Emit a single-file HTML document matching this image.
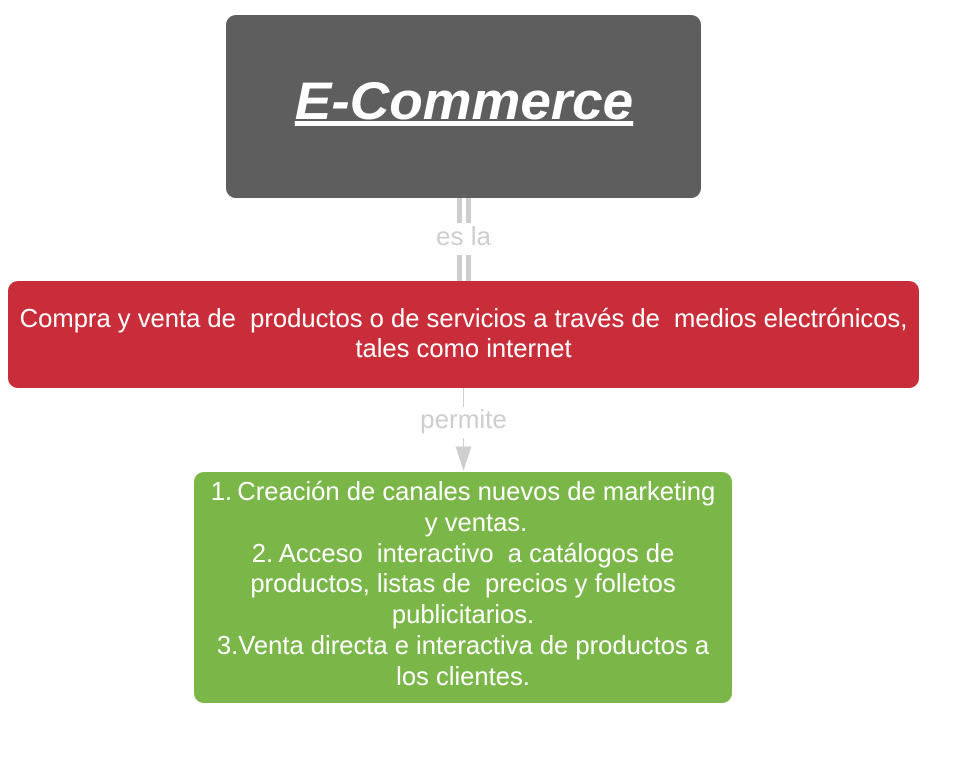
<!DOCTYPE html>
<html>
<head>
<meta charset="utf-8">
<style>
html,body{margin:0;padding:0;background:#fff;width:980px;height:765px;overflow:hidden}
body{position:relative;font-family:"Liberation Sans",sans-serif}
.a{position:absolute}
.box{position:absolute;box-sizing:border-box}
.t{position:absolute;text-align:center;color:#fff;white-space:nowrap;font-size:25.6px;line-height:30.8px}
.l{position:absolute;left:363.5px;width:200px;text-align:center;color:#cecece;font-size:26px;line-height:30px;white-space:nowrap}
</style>
</head>
<body>
<div class="box" style="left:225.5px;top:15px;width:475.5px;height:183px;background:#5e5e5e;border-radius:10px"></div>
<div class="a" style="left:225px;width:478px;top:69px;text-align:center;color:#fff;font-size:53px;line-height:66px;font-weight:bold;font-style:italic;text-decoration:underline;text-decoration-thickness:4.5px;text-underline-offset:2px;white-space:nowrap;transform:scaleX(1.035);transform-origin:center">E-Commerce</div>

<div class="a" style="left:456.5px;top:198px;width:5px;height:25px;background:#cecece"></div>
<div class="a" style="left:465.5px;top:198px;width:5px;height:25px;background:#cecece"></div>
<div class="a" style="left:456.5px;top:255px;width:5px;height:26px;background:#cecece"></div>
<div class="a" style="left:465.5px;top:255px;width:5px;height:26px;background:#cecece"></div>
<div class="l" style="top:221px">es la</div>

<div class="box" style="left:8px;top:281px;width:911px;height:107px;background:#c92d39;border-radius:10px"></div>
<div class="t" style="left:8px;width:911px;top:303.5px">Compra y venta de&nbsp; productos o de servicios a través de&nbsp; medios electrónicos,<br>tales como internet</div>

<div class="a" style="left:462.8px;top:388px;width:1.5px;height:19px;background:#cecece"></div>
<div class="l" style="top:404px">permite</div>
<div class="a" style="left:462.8px;top:438px;width:1.5px;height:12px;background:#cecece"></div>
<svg class="a" style="left:455px;top:446px" width="18" height="26"><polygon points="0.5,0.5 16.5,0.5 8.5,25" fill="#cecece"/></svg>

<div class="box" style="left:194px;top:472px;width:538px;height:231px;background:#7ab648;border-radius:10px"></div>
<div class="t" style="left:194px;width:538px;top:477px"><span style="word-spacing:-2px">1. Creación</span> de canales nuevos de marketing<br><span style="padding-left:26px">y ventas.</span><br>2. Acceso&nbsp; interactivo&nbsp; a catálogos de<br>productos, listas de&nbsp; precios y folletos<br>publicitarios.<br>3.Venta directa e interactiva de productos a<br>los clientes.</div>
</body>
</html>
